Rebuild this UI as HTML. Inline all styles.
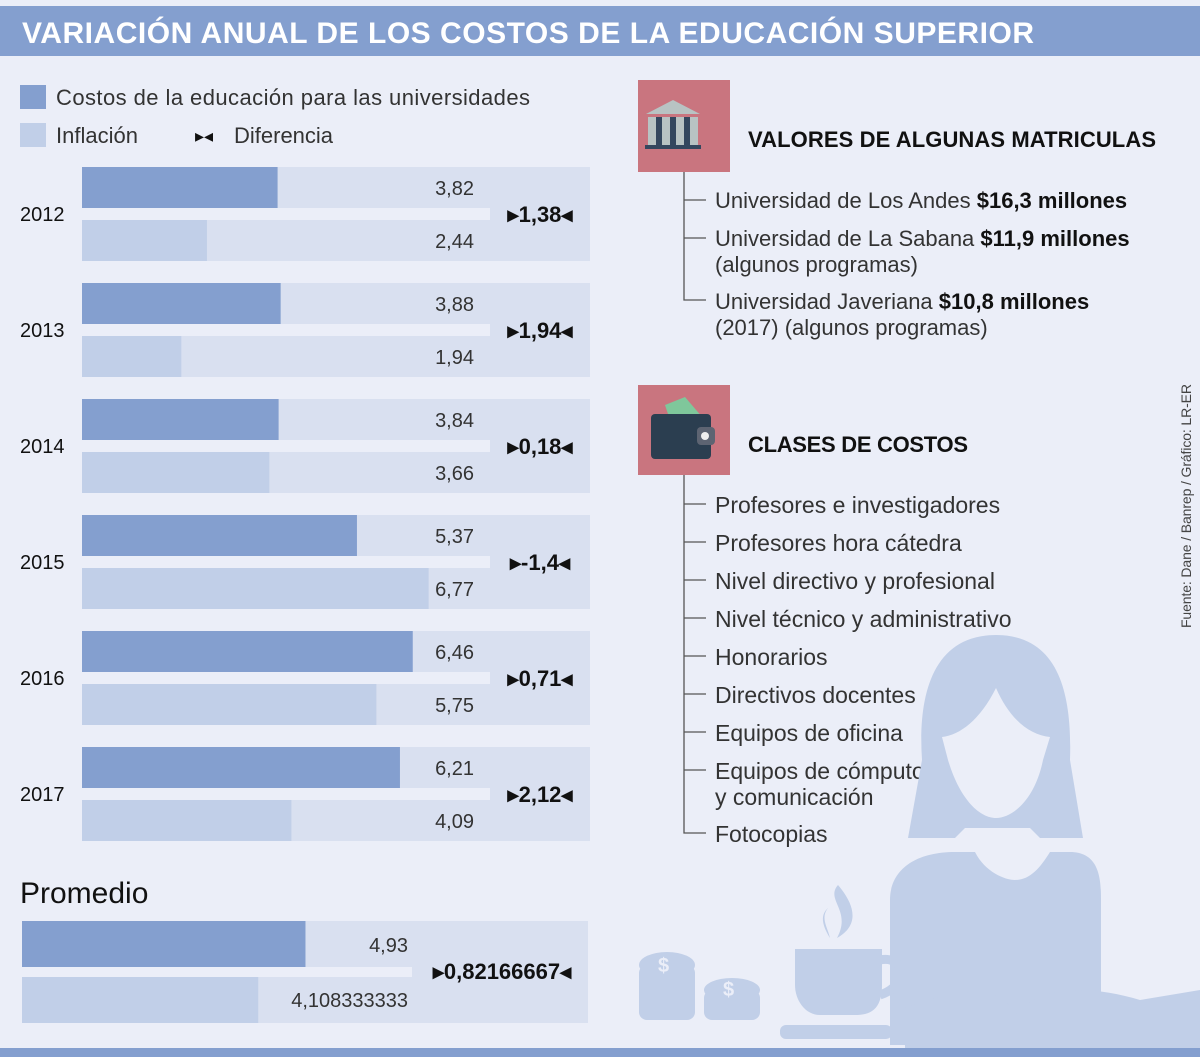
<!DOCTYPE html>
<html><head><meta charset="utf-8">
<style>
html,body{margin:0;padding:0;background:#ebeef8;}
svg{display:block;font-family:"Liberation Sans",sans-serif;}
</style></head>
<body>
<svg id="chart" width="1200" height="1057" viewBox="0 0 1200 1057">
<rect x="0" y="0" width="1200" height="1057" fill="#ebeef8"/>
<rect x="0" y="6" width="1200" height="50" fill="#849fcf"/>
<text x="22" y="43" font-size="30" font-weight="bold" fill="#ffffff" textLength="1012">VARIACIÓN ANUAL DE LOS COSTOS DE LA EDUCACIÓN SUPERIOR</text>
<rect x="0" y="1048" width="1200" height="9" fill="#849fcf"/>

<g>
<rect x="20" y="85" width="26" height="24" fill="#849fcf"/>
<text x="56" y="105" font-size="22" fill="#333" textLength="474">Costos de la educación para las universidades</text>
<rect x="20" y="123" width="26" height="24" fill="#c1cfe8"/>
<text x="56" y="143" font-size="22" fill="#333">Inflación</text>
<text x="195" y="142" font-size="18" fill="#111">▸◂</text>
<text x="234" y="143" font-size="22" fill="#333">Diferencia</text>
</g>

<g id="bars"></g>

<g>
<rect x="638" y="80" width="92" height="92" fill="#c9757f"/>
<polygon points="646,114 673,100 700,114" fill="#b8c3c3"/>
<rect x="648" y="117" width="50" height="28" fill="#b8c3c3"/>
<rect x="656" y="117" width="6" height="28" fill="#34475e"/><rect x="670" y="117" width="6" height="28" fill="#34475e"/><rect x="684" y="117" width="6" height="28" fill="#34475e"/>
<rect x="645" y="145" width="56" height="4" fill="#34475e"/>
<text x="748" y="147" font-size="22" font-weight="bold" fill="#111" textLength="408">VALORES DE ALGUNAS MATRICULAS</text>
<path d="M684 172 V300 H706 M684 200 H706 M684 238 H706" stroke="#555" stroke-width="1.3" fill="none"/>
<g font-size="22" fill="#333">
<text x="715" y="208">Universidad de Los Andes <tspan font-weight="bold" fill="#111">$16,3 millones</tspan></text>
<text x="715" y="246">Universidad de La Sabana <tspan font-weight="bold" fill="#111">$11,9 millones</tspan></text>
<text x="715" y="272">(algunos programas)</text>
<text x="715" y="309">Universidad Javeriana <tspan font-weight="bold" fill="#111">$10,8 millones</tspan></text>
<text x="715" y="335">(2017) (algunos programas)</text>
</g>
</g>

<g>
<rect x="638" y="385" width="92" height="90" fill="#c9757f"/>
<polygon points="665,405 685,397 703,418 670,420" fill="#7fc79b"/>
<rect x="651" y="414" width="60" height="45" rx="4" fill="#2b3e50"/>
<rect x="697" y="427" width="18" height="18" rx="4" fill="#5d6472"/>
<circle cx="705" cy="436" r="4" fill="#eee"/>
<text x="748" y="452" font-size="22" font-weight="bold" fill="#111" textLength="220">CLASES DE COSTOS</text>
<path d="M684 475 V833 H706" stroke="#555" stroke-width="1.3" fill="none"/>
<path d="M684 504 H706 M684 542 H706 M684 580 H706 M684 618 H706 M684 656 H706 M684 694 H706 M684 732 H706 M684 770 H706" stroke="#555" stroke-width="1.3"/>
<g font-size="23" fill="#333">
<text x="715" y="513">Profesores e investigadores</text>
<text x="715" y="551">Profesores hora cátedra</text>
<text x="715" y="589">Nivel directivo y profesional</text>
<text x="715" y="627">Nivel técnico y administrativo</text>
<text x="715" y="665">Honorarios</text>
<text x="715" y="703">Directivos docentes</text>
<text x="715" y="741">Equipos de oficina</text>
<text x="715" y="779">Equipos de cómputo</text>
<text x="715" y="805">y comunicación</text>
<text x="715" y="842">Fotocopias</text>
</g>
</g>

<text transform="translate(1191,628) rotate(-90)" font-size="14" fill="#444" textLength="244">Fuente: Dane / Banrep / Gráfico: LR-ER</text>

<g fill="#c1cfe8">
<path d="M922 760 C918 700 930 635 996 635 C1062 635 1072 700 1070 760 L1083 838 L1040 838 L1030 828 L965 828 L955 838 L908 838 Z"/>
<path d="M996 688 C980 720 960 735 942 737 L948 760 C960 800 980 818 996 818 C1012 818 1035 800 1043 760 L1050 737 C1030 735 1010 720 996 688 Z" fill="#ebeef8"/>
<path d="M890 900 C890 870 915 852 955 852 L975 852 C985 872 1005 880 1015 880 C1030 880 1040 868 1050 852 L1070 852 C1100 852 1101 880 1101 900 L1101 1045 L890 1045 Z"/>
<path d="M900 1010 C950 990 1000 980 1015 1015 C1040 985 1090 985 1140 1000 L1200 990 L1200 1045 L900 1045 Z"/>
<rect x="905" y="1020" width="295" height="28"/>
<path d="M795 949 L882 949 L882 985 C882 1010 870 1015 855 1015 L820 1015 C805 1015 795 1000 795 985 Z"/>
<path d="M880 960 C905 955 910 985 880 995" fill="none" stroke="#c1cfe8" stroke-width="9"/>
<rect x="780" y="1025" width="112" height="14" rx="6"/>
<path d="M838 885 C825 900 852 910 837 938 C860 925 855 905 838 885 Z"/>
<path d="M828 908 C820 918 828 928 830 938 C822 925 820 915 828 908 Z"/>
<ellipse cx="667" cy="965" rx="28" ry="13"/>
<rect x="639" y="965" width="56" height="55" rx="8"/>
<ellipse cx="732" cy="990" rx="28" ry="12"/>
<rect x="704" y="990" width="56" height="30" rx="8"/>
</g>
<g fill="#ebeef8" font-size="20" font-weight="bold"><text x="658" y="972">$</text><text x="723" y="996">$</text></g>

<script>
const years = ["2012","2013","2014","2015","2016","2017"];
const costos = [3.82, 3.88, 3.84, 5.37, 6.46, 6.21];
const inflacion = [2.44, 1.94, 3.66, 6.77, 5.75, 4.09];
const diferencia = ["1,38","1,94","0,18","-1,4","0,71","2,12"];
const promCostos = 4.93;
const promInflacion = 4.108333333;
const promDiferencia = "0,82166667";

const NS = "http://www.w3.org/2000/svg";
const g = document.getElementById("bars");
function mk(tag, attrs, parent){ const e=document.createElementNS(NS,tag); for(const k in attrs) e.setAttribute(k,attrs[k]); (parent||g).appendChild(e); return e; }
function fmt(v){ return String(v).replace(".",","); }
const x0 = 82, scale = 51.2, rowTop = 167, pitch = 116;
function xs(v){ return v*scale; }

years.forEach((yr,i)=>{
  const y = rowTop + i*pitch;
  const track1 = mk("rect",{x:x0,y:y,width:408,height:41,fill:"#d9e0f0"});
  
  
  const track2 = mk("rect",{x:x0,y:y+53,width:408,height:41,fill:"#d9e0f0"});
  
  
  const box = mk("rect",{x:490,y:y,width:100,height:94,fill:"#d9e0f0"});
  
  
  const b1 = mk("rect",{x:x0,y:y,width:xs(costos[i]),height:41,fill:"#849fcf"});
  
  
  const b2 = mk("rect",{x:x0,y:y+53,width:xs(inflacion[i]),height:41,fill:"#c1cfe8"});
  
  
  const t1 = mk("text",{x:474,y:y+28,"font-size":20,fill:"#333","text-anchor":"end"}); t1.textContent=fmt(costos[i]);
  
  
  const t2 = mk("text",{x:474,y:y+81,"font-size":20,fill:"#333","text-anchor":"end"}); t2.textContent=fmt(inflacion[i]);
  
  
  const yl = mk("text",{x:20,y:y+54,"font-size":20,fill:"#111"}); yl.textContent=yr;
  
  
  const d = mk("text",{x:540,y:y+55,"font-size":22,"font-weight":"bold",fill:"#111","text-anchor":"middle"}); d.textContent="▸"+diferencia[i]+"◂";
  
  
});

const pl = mk("text",{x:20,y:903,"font-size":30,fill:"#111"}); pl.textContent="Promedio";


const px0 = 22, pscale = 57.5;
const pt1 = mk("rect",{x:px0,y:921,width:390,height:46,fill:"#d9e0f0"});


const pt2 = mk("rect",{x:px0,y:977,width:390,height:46,fill:"#d9e0f0"});


const pbox = mk("rect",{x:412,y:921,width:176,height:102,fill:"#d9e0f0"});


const pb1 = mk("rect",{x:px0,y:921,width:promCostos*pscale,height:46,fill:"#849fcf"});


const pb2 = mk("rect",{x:px0,y:977,width:promInflacion*pscale,height:46,fill:"#c1cfe8"});


const pv1 = mk("text",{x:408,y:952,"font-size":20,fill:"#333","text-anchor":"end"}); pv1.textContent=fmt(promCostos);


const pv2 = mk("text",{x:408,y:1007,"font-size":20,fill:"#333","text-anchor":"end"}); pv2.textContent=fmt(promInflacion);


const pd = mk("text",{x:502,y:979,"font-size":22,"font-weight":"bold",fill:"#111","text-anchor":"middle"}); pd.textContent="▸"+promDiferencia+"◂";


</script>
</svg>
</body></html>
